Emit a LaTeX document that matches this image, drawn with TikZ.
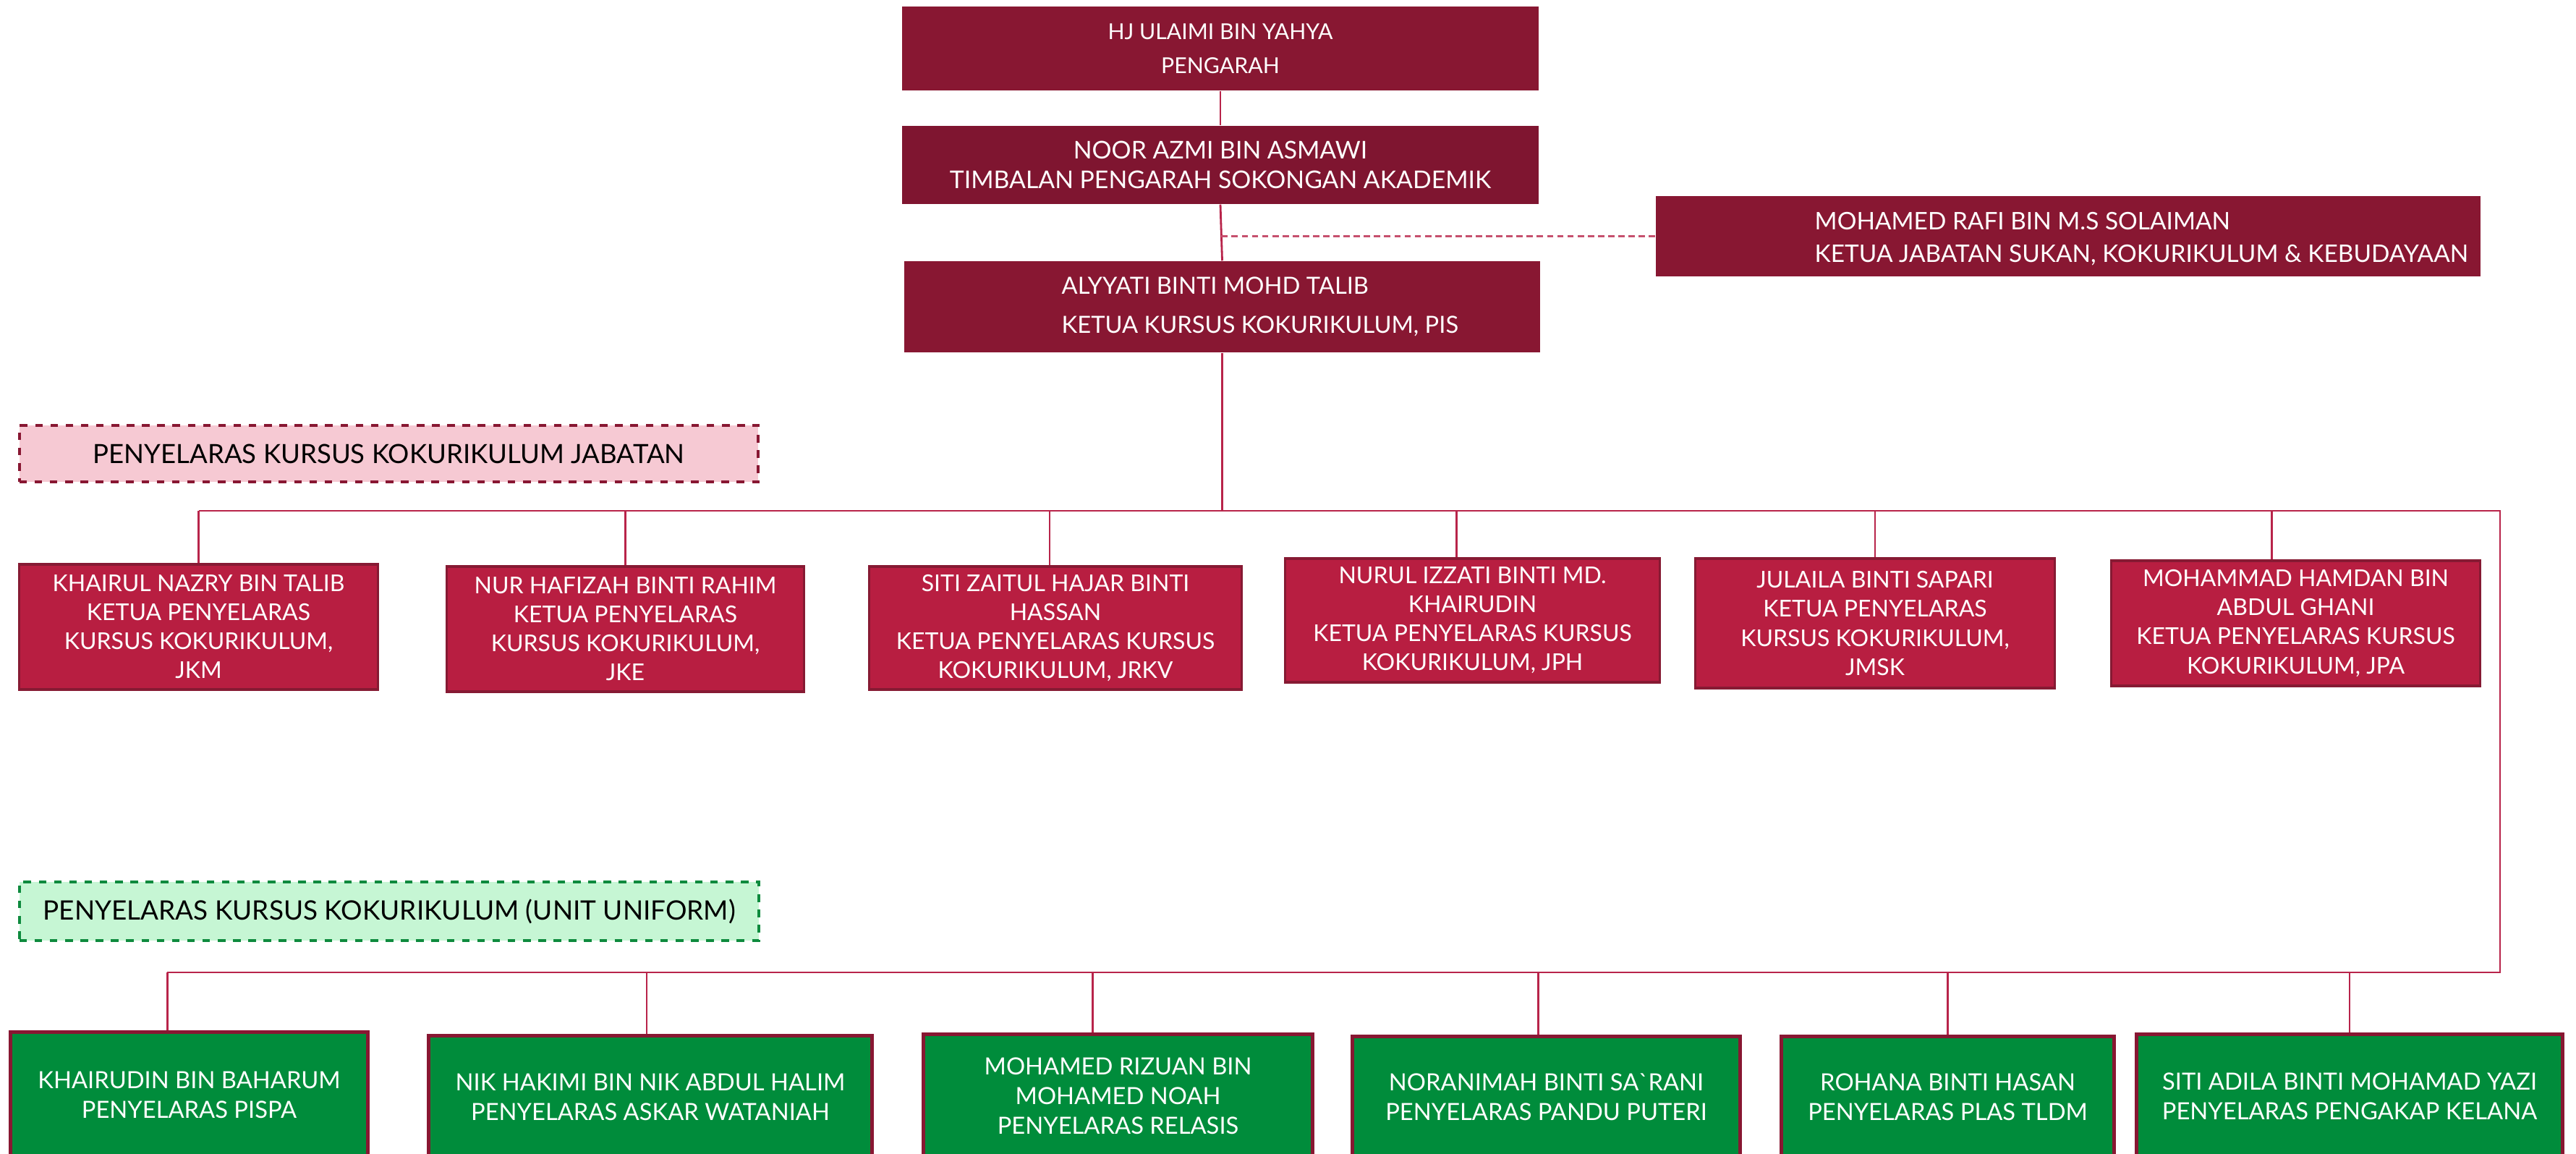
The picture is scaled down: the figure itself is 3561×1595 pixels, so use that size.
\documentclass[tikz,border=0pt]{standalone}
\usepackage{fontspec}
\setmainfont{Lato}
\definecolor{maroon}{HTML}{881732}
\definecolor{maroonN}{HTML}{7F1530}
\definecolor{maroonD}{HTML}{861A33}
\definecolor{crimson}{HTML}{B81E41}
\definecolor{lineC}{HTML}{B8244A}
\definecolor{greenF}{HTML}{008C3B}
\definecolor{greenL}{HTML}{C6F6D4}
\definecolor{greenD}{HTML}{0E8A3E}
\definecolor{pinkL}{HTML}{F6C9D3}
\tikzset{
  topbox/.style={rectangle, fill=maroon, inner sep=0pt, text=white, align=center},
  txt/.style={inner sep=0pt, text=white, align=left},
  cbox/.style={rectangle, fill=crimson, draw=maroonD, line width=0.9pt, text=white, align=center, inner sep=0pt, font=\fontsize{9.1}{11.4}\selectfont},
  gbox/.style={rectangle, fill=greenF, draw=maroon, line width=1.4pt, text=white, align=center, inner sep=0pt, font=\fontsize{9.3}{11.7}\selectfont},
  pinklabel/.style={rectangle, fill=pinkL, draw=maroon, dashed, line width=1.1pt, text=black, inner sep=0pt, font=\fontsize{10.4}{12}\selectfont},
  greenlabel/.style={rectangle, fill=greenL, draw=greenD, dashed, line width=1.1pt, text=black, inner sep=0pt, font=\fontsize{10.5}{12}\selectfont},
  conn/.style={draw=lineC, line width=0.8pt},
  dconn/.style={draw=lineC!80, line width=0.8pt, dash pattern=on 2.5pt off 1.5pt},
}
\begin{document}
\begin{tikzpicture}[x=0.01cm, y=-0.01cm]
\useasboundingbox (0,0) rectangle (3561,1595);
\clip (0,0) rectangle (3561,1595);

% top chain
\node[topbox, minimum width=8.80cm, minimum height=1.16cm, font=\fontsize{8.6}{13.4}\selectfont] (pengarah) at (1687,67) {HJ ULAIMI BIN YAHYA\\PENGARAH};
\node[topbox, fill=maroonN, minimum width=8.80cm, minimum height=1.08cm, font=\fontsize{9.6}{11.7}\selectfont] (noor) at (1687,228) {NOOR AZMI BIN ASMAWI\\TIMBALAN PENGARAH SOKONGAN AKADEMIK};
\node[topbox, minimum width=8.79cm, minimum height=1.26cm] (alyyati) at (1689.5,424) {};
\node[txt, anchor=west, font=\fontsize{9.3}{15.4}\selectfont] (alyyatiT) at (1467,424) {ALYYATI BINTI MOHD TALIB\\KETUA KURSUS KOKURIKULUM, PIS};
\node[topbox, minimum width=11.40cm, minimum height=1.11cm] (rafi) at (2859,326.5) {};
\node[txt, anchor=west, font=\fontsize{9.5}{12.8}\selectfont] (rafiT) at (2508,330) {MOHAMED RAFI BIN M.S SOLAIMAN\\KETUA JABATAN SUKAN, KOKURIKULUM \& KEBUDAYAAN};

% group labels
\node[pinklabel, minimum width=10.21cm, minimum height=0.78cm] (lab1) at (537.5,627) {PENYELARAS KURSUS KOKURIKULUM JABATAN};
\node[greenlabel, minimum width=10.22cm, minimum height=0.81cm] (lab2) at (538,1259.5) {PENYELARAS KURSUS KOKURIKULUM (UNIT UNIFORM)};

% department coordinators
\node[cbox, minimum width=4.95cm, minimum height=1.73cm] (c1) at (274.5,866.5) {KHAIRUL NAZRY BIN TALIB\\KETUA PENYELARAS\\KURSUS KOKURIKULUM,\\JKM};
\node[cbox, minimum width=4.93cm, minimum height=1.73cm] (c2) at (864.5,869.5) {NUR HAFIZAH BINTI RAHIM\\KETUA PENYELARAS\\KURSUS KOKURIKULUM,\\JKE};
\node[cbox, minimum width=5.14cm, minimum height=1.70cm] (c3) at (1459,868) {SITI ZAITUL HAJAR BINTI\\HASSAN\\KETUA PENYELARAS KURSUS\\KOKURIKULUM, JRKV};
\node[cbox, minimum width=5.17cm, minimum height=1.71cm] (c4) at (2035.5,857.5) {NURUL IZZATI BINTI MD.\\KHAIRUDIN\\KETUA PENYELARAS KURSUS\\KOKURIKULUM, JPH};
\node[cbox, minimum width=4.96cm, minimum height=1.79cm] (c5) at (2592,861.5) {JULAILA BINTI SAPARI\\KETUA PENYELARAS\\KURSUS KOKURIKULUM,\\JMSK};
\node[cbox, minimum width=5.09cm, minimum height=1.73cm] (c6) at (3173.5,861.5) {MOHAMMAD HAMDAN BIN\\ABDUL GHANI\\KETUA PENYELARAS KURSUS\\KOKURIKULUM, JPA};

% uniform unit coordinators
\node[gbox, minimum width=4.93cm, minimum height=1.73cm] (g1) at (261.5,1513.5) {KHAIRUDIN BIN BAHARUM\\PENYELARAS PISPA};
\node[gbox, minimum width=6.12cm, minimum height=1.68cm] (g2) at (899,1516) {NIK HAKIMI BIN NIK ABDUL HALIM\\PENYELARAS ASKAR WATANIAH};
\node[gbox, minimum width=5.37cm, minimum height=1.70cm] (g3) at (1545.5,1515) {MOHAMED RIZUAN BIN\\MOHAMED NOAH\\PENYELARAS RELASIS};
\node[gbox, minimum width=5.35cm, minimum height=1.67cm] (g4) at (2137.5,1516.5) {NORANIMAH BINTI SA\textasciigrave RANI\\PENYELARAS PANDU PUTERI};
\node[gbox, minimum width=4.59cm, minimum height=1.67cm] (g5) at (2692.5,1516.5) {ROHANA BINTI HASAN\\PENYELARAS PLAS TLDM};
\node[gbox, minimum width=5.88cm, minimum height=1.70cm] (g6) at (3248,1515) {SITI ADILA BINTI MOHAMAD YAZI\\PENYELARAS PENGAKAP KELANA};

% bus coordinates
\coordinate (b1L) at (275,706);
\coordinate (b1R) at (3456,706);
\coordinate (b2R) at (3456,1344);
\coordinate (b2L) at (231,1344);

% connectors
\draw[conn] (pengarah.south) -- (noor.north);
\draw[conn] (noor.south) -- (alyyati.north);
\draw[dconn] (rafi.west) -- (rafi.west -| noor.south);
\draw[conn] (alyyati.south) -- (alyyati.south |- b1L);
\draw[conn] (b1L) -- (b1R) -- (b2R) -- (b2L);

\draw[conn] (c1.north) -- (c1.north |- b1L);
\draw[conn] (c2.north) -- (c2.north |- b1L);
\draw[conn] ([xshift=-0.08cm]c3.north) -- ([xshift=-0.08cm]c3.north |- b1L);
\draw[conn] ([xshift=-0.22cm]c4.north) -- ([xshift=-0.22cm]c4.north |- b1L);
\draw[conn] (c5.north) -- (c5.north |- b1L);
\draw[conn] ([xshift=-0.33cm]c6.north) -- ([xshift=-0.33cm]c6.north |- b1L);

\draw[conn] ([xshift=-0.30cm]g1.north) -- ([xshift=-0.30cm]g1.north |- b2L);
\draw[conn] ([xshift=-0.05cm]g2.north) -- ([xshift=-0.05cm]g2.north |- b2L);
\draw[conn] ([xshift=-0.35cm]g3.north) -- ([xshift=-0.35cm]g3.north |- b2L);
\draw[conn] ([xshift=-0.11cm]g4.north) -- ([xshift=-0.11cm]g4.north |- b2L);
\draw[conn] (g5.north) -- (g5.north |- b2L);
\draw[conn] (g6.north) -- (g6.north |- b2L);
\end{tikzpicture}
\end{document}
